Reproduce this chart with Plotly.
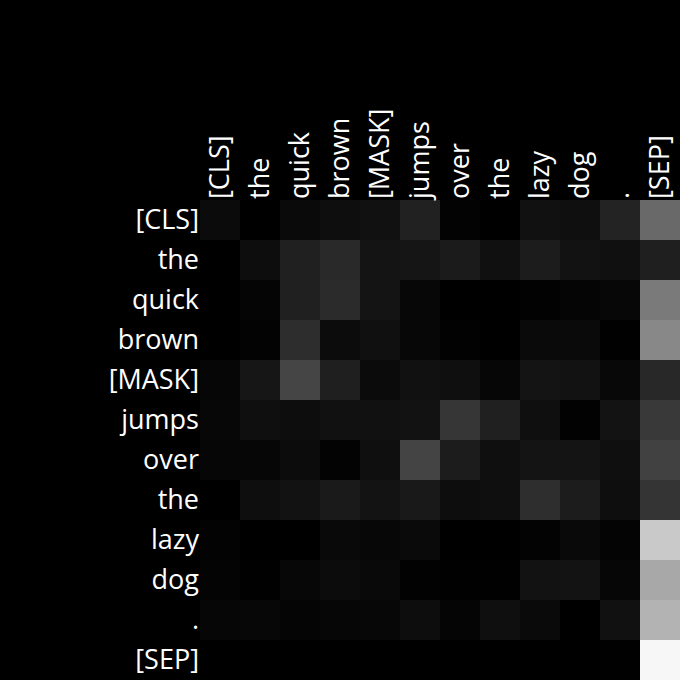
import plotly.graph_objects as go

# tokens of the sentence (rows = queries, columns = keys)
tokens = ["[CLS]", "the", "quick", "brown", "[MASK]", "jumps",
          "over", "the", "lazy", "dog", ".", "[SEP]"]

# attention weights, one list per query token
att_cls   = [0.043, 0.000, 0.039, 0.055, 0.067, 0.129, 0.012, 0.000, 0.067, 0.059, 0.137, 0.412]
att_the1  = [0.000, 0.051, 0.125, 0.161, 0.078, 0.082, 0.106, 0.063, 0.110, 0.071, 0.063, 0.122]
att_quick = [0.000, 0.020, 0.125, 0.169, 0.078, 0.027, 0.000, 0.000, 0.008, 0.020, 0.027, 0.478]
att_brown = [0.000, 0.012, 0.176, 0.047, 0.063, 0.027, 0.008, 0.000, 0.039, 0.039, 0.004, 0.533]
att_mask  = [0.024, 0.086, 0.271, 0.122, 0.043, 0.067, 0.059, 0.024, 0.078, 0.071, 0.031, 0.157]
att_jumps = [0.027, 0.059, 0.051, 0.067, 0.067, 0.071, 0.212, 0.125, 0.059, 0.008, 0.075, 0.224]
att_over  = [0.024, 0.024, 0.047, 0.012, 0.059, 0.267, 0.110, 0.059, 0.078, 0.078, 0.059, 0.255]
att_the2  = [0.000, 0.055, 0.071, 0.102, 0.075, 0.098, 0.051, 0.059, 0.180, 0.110, 0.055, 0.204]
att_lazy  = [0.012, 0.000, 0.000, 0.035, 0.027, 0.039, 0.000, 0.000, 0.012, 0.035, 0.016, 0.788]
att_dog   = [0.016, 0.004, 0.027, 0.047, 0.035, 0.008, 0.004, 0.004, 0.071, 0.075, 0.024, 0.659]
att_dot   = [0.024, 0.027, 0.020, 0.024, 0.027, 0.051, 0.020, 0.059, 0.039, 0.000, 0.067, 0.702]
att_sep   = [0.000, 0.000, 0.000, 0.000, 0.000, 0.000, 0.000, 0.000, 0.000, 0.000, 0.004, 0.969]

z = [att_cls, att_the1, att_quick, att_brown, att_mask, att_jumps,
     att_over, att_the2, att_lazy, att_dog, att_dot, att_sep]

idx = list(range(len(tokens)))

fig = go.Figure(go.Heatmap(
    z=z, x=idx, y=idx,
    colorscale=[[0, "black"], [1, "white"]],
    zmin=0, zmax=1, showscale=False,
))

fig.update_layout(
    width=680, height=680,
    margin=dict(l=200, r=0, t=200, b=0),
    paper_bgcolor="black", plot_bgcolor="black",
    font=dict(family="Open Sans", size=27, color="white"),
)
fig.update_xaxes(side="top", tickangle=-90, tickvals=idx, ticktext=tokens,
                 showgrid=False, zeroline=False, ticks="")
fig.update_yaxes(autorange="reversed", tickvals=idx, ticktext=tokens,
                 showgrid=False, zeroline=False, ticks="")

# page without the default body margin, black all round, no modebar
fig.write_html("out.html",
               config={"displayModeBar": False},
               post_script="document.body.style.margin='0';"
                           "document.body.style.background='black';")
